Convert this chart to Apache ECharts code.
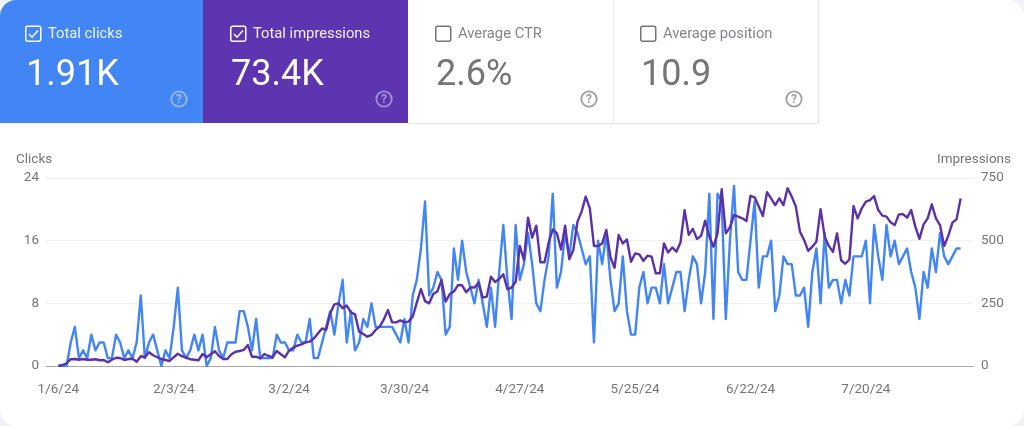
<!DOCTYPE html>
<html><head><meta charset="utf-8">
<style>html,body{margin:0;padding:0;background:#fff}#c{width:1024px;height:426px}</style>
<script src="https://cdn.jsdelivr.net/npm/echarts@6/dist/echarts.min.js"></script>
</head><body><div id="c"></div>
<script>
const startDate = new Date(2024, 0, 6);
const tickLabels = ['1/6/24','2/3/24','3/2/24','3/30/24','4/27/24','5/25/24','6/22/24','7/20/24'];
const clicks = [
0,0,0,3,5,1,2,1,4,2,3,3,1,1,4,3,1,2,1,3,9,1,3,4,2,0,2,1,5,10,2,1,2,4,2,4,0,1,5,2,1,3,3,3,7,
7,5,2,6,1,1,1,1,4,3,3,2,2,4,3,3,6,1,1,3,5,7,4,8,11,3,7,2,3,6,5,8,5,5,5,5,5,4,3,6,3,9,11,15,21,
9,10,12,11,4,5,15,11,16,12,10,8,11,8,5,10,5,12,18,11,6,18,11,13,17,13,8,7,11,14,22,10,12,17,14,18,17,15,13,14,
3,16,13,17,11,7,8,14,7,4,4,10,12,8,10,10,8,13,8,10,12,12,7,11,14,13,8,12,22,6,22,21,6,16,23,12,11,11,16,21,
10,14,14,16,7,9,14,13,13,9,9,10,5,12,15,8,17,10,11,11,8,11,9,14,14,14,16,8,18,14,11,18,14,16,13,14,15,12,10,6,
12,10,15,12,17,14,13,14,15,15];
const impressions = [
0,4,11,27,28,25,28,25,25,27,23,24,15,25,33,32,24,28,29,17,39,35,55,43,35,28,24,20,35,49,39,33,27,25,23,48,35,47,59,40,28,28,47,57,60,
64,84,37,37,30,48,40,35,60,47,35,61,73,81,86,94,97,110,130,150,144,210,246,250,230,241,214,206,137,128,117,124,144,157,186,223,174,174,182,174,177,197,253,307,259,
250,287,298,343,257,287,297,323,322,294,313,313,332,273,277,356,335,347,366,306,313,336,479,423,592,512,560,414,414,492,545,529,465,560,426,463,576,616,676,629,
479,479,489,543,434,392,523,489,505,416,449,445,420,440,436,370,370,489,453,473,456,493,622,523,547,507,519,580,516,476,529,705,529,553,602,596,589,578,679,673,
636,598,693,669,642,669,642,709,676,636,536,503,459,476,497,626,516,479,455,529,422,408,425,638,589,629,656,662,678,622,600,596,573,562,605,606,592,622,556,507,
565,589,645,589,562,479,519,572,585,668];

// Padding days either side keep the first/last points inset from the grid edges.
const padDays = 3;
const categories = [];
for (let i = -padDays; i < clicks.length + padDays; i++) {
  if (i >= 0 && i < clicks.length) {
    const d = new Date(startDate.getTime()); d.setDate(d.getDate() + i);
    categories.push((d.getMonth()+1) + '/' + d.getDate() + '/' + String(d.getFullYear()).slice(2));
  } else categories.push('');
}
const pad = a => [...Array(padDays).fill(null), ...a, ...Array(padDays).fill(null)];

const font = 'Roboto';
const cards = [
 {x:0,w:203,bg:'#4285f4',title:'Total clicks',value:'1.91K',on:true,fg:'#ffffff',tfg:'rgba(255,255,255,0.92)',q:'rgba(255,255,255,0.45)'},
 {x:203,w:205,bg:'#5e35b1',title:'Total impressions',value:'73.4K',on:true,fg:'#ffffff',tfg:'rgba(255,255,255,0.92)',q:'rgba(255,255,255,0.45)'},
 {x:408,w:205,bg:'#ffffff',title:'Average CTR',value:'2.6%',on:false,fg:'#757575',tfg:'#80868b',q:'#9e9e9e'},
 {x:613,w:205,bg:'#ffffff',title:'Average position',value:'10.9',on:false,fg:'#757575',tfg:'#80868b',q:'#9e9e9e'}
];
const g = [];
g.push({type:'rect',z:0,shape:{x:0,y:0,width:1024,height:426},style:{fill:'#f0f3fa'}});
g.push({type:'rect',z:1,shape:{x:0,y:0,width:1024,height:426,r:16},style:{fill:'#ffffff'}});
cards.forEach((c,i)=>{
  g.push({type:'rect',z:2,shape:{x:c.x,y:0,width:c.w,height:123,r:i===0?[16,0,0,0]:0},style:{fill:c.bg}});
  const bx = c.x + (i===0?26:28);
  g.push({type:'rect',z:3,shape:{x:bx-0.25,y:26.25,width:15,height:15,r:2},style:{fill:'none',stroke:c.on?'#fff':'#757575',lineWidth:1.5}});
  if(c.on) g.push({type:'polyline',z:3,shape:{points:[[bx+3,34],[bx+6,37.2],[bx+12,30.5]]},style:{fill:'none',stroke:'#fff',lineWidth:1.5}});
  g.push({type:'text',z:3,style:{x:bx+22,y:34.5,text:c.title,fill:c.tfg,font:'14.75px '+font,textAlign:'left',textVerticalAlign:'middle'}});
  g.push({type:'text',z:3,style:{x:bx,y:75.5,text:c.value,fill:c.fg,font:'36px '+font,textAlign:'left',textVerticalAlign:'middle'}});
  const cx = c.x + c.w - 24, cy = 99;
  g.push({type:'circle',z:3,shape:{cx,cy,r:7.7},style:{fill:'none',stroke:c.q,lineWidth:1.8}});
  g.push({type:'text',z:3,style:{x:cx,y:cy+0.5,text:'?',fill:c.q,font:'bold 12px '+font,textAlign:'center',textVerticalAlign:'middle'}});
});
g.push({type:'polyline',z:3,shape:{points:[[408,123.5],[818.5,123.5],[818.5,0]]},style:{fill:'none',stroke:'#e3e3e3',lineWidth:1}});
g.push({type:'line',z:3,shape:{x1:613.5,y1:0,x2:613.5,y2:123},style:{stroke:'#ececec',lineWidth:1}});
g.push({type:'text',z:3,style:{x:16,y:159.5,text:'Clicks',fill:'#757575',font:'13.5px '+font,textAlign:'left',textVerticalAlign:'middle'}});
g.push({type:'text',z:3,style:{x:1011,y:159.5,text:'Impressions',fill:'#757575',font:'13.5px '+font,textAlign:'right',textVerticalAlign:'middle'}});

const chart = echarts.init(document.getElementById('c'),null,{renderer:'canvas'});
chart.setOption({
  animation:false,
  textStyle:{fontFamily:font},
  graphic:{elements:g},
  grid:{left:46,right:51,top:178,bottom:60,z:5},
  xAxis:{type:'category',data:categories,boundaryGap:false,z:5,
    axisTick:{show:false},
    axisLine:{show:true,lineStyle:{color:'#a8a8a8',width:1}},
    splitLine:{show:false},
    axisLabel:{color:'#757575',fontSize:13.5,fontFamily:font,margin:17,hideOverlap:false,
      interval:(idx,val)=>tickLabels.includes(val)}},
  yAxis:[
   {type:'value',min:0,max:24,interval:8,z:5,axisLine:{show:false},axisTick:{show:false},
    splitLine:{lineStyle:{color:'#f0f0f0',width:1}},
    axisLabel:{color:'#757575',fontSize:13.5,fontFamily:font,margin:7,padding:[2,0,0,0]}},
   {type:'value',min:0,max:750,interval:250,z:5,position:'right',axisLine:{show:false},axisTick:{show:false},
    splitLine:{show:false},
    axisLabel:{color:'#757575',fontSize:13.5,fontFamily:font,margin:8,padding:[2,0,0,0]}}
  ],
  series:[
   {name:'Clicks',type:'line',yAxisIndex:0,data:pad(clicks),showSymbol:false,symbol:'none',
    lineStyle:{color:'#4285f4',width:2.4,join:'round'},z:6},
   {name:'Impressions',type:'line',yAxisIndex:1,data:pad(impressions),showSymbol:false,symbol:'none',
    lineStyle:{color:'#5b30aa',width:2.4,join:'round'},z:7}
  ]
});
</script></body></html>
